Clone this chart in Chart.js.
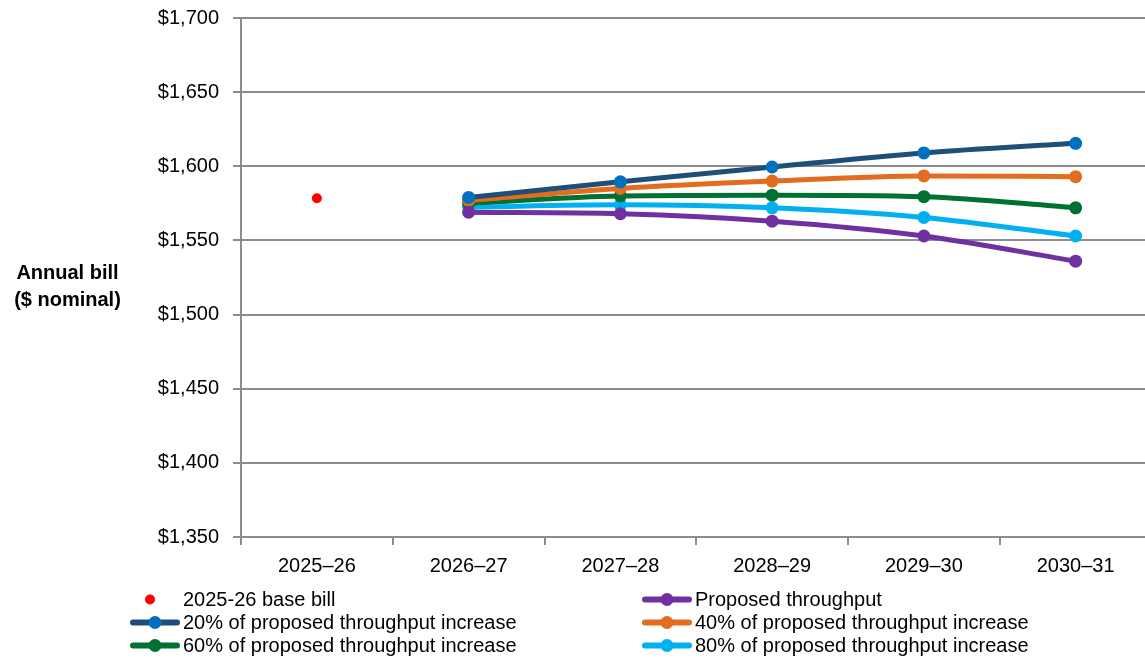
<!DOCTYPE html>
<html>
<head>
<meta charset="utf-8">
<script src="https://cdn.jsdelivr.net/npm/chart.js@4/dist/chart.umd.min.js"></script>
<style>
  body { margin: 0; background: #fff; font-family: "Liberation Sans", Arial, sans-serif; overflow: hidden; }
  #wrap { position: relative; width: 1145px; height: 661px; overflow: hidden; }
  #ytitle { position: absolute; left: 0; top: 259px; width: 135px; text-align: center;
            font-weight: bold; font-size: 20px; line-height: 27px; color: #000; }
  #legend { position: absolute; left: 0; top: 588px; width: 1145px; font-size: 20px; color: #000; }
  .item { position: absolute; height: 23px; line-height: 23px; white-space: nowrap; }
  .item canvas { position: absolute; left: 0; top: 0; }
  .item span { position: absolute; left: 53px; top: 0; }
</style>
</head>
<body>
<div id="wrap">
  <canvas id="myChart" width="1158" height="661"></canvas>
  <div id="ytitle">Annual bill<br>($ nominal)</div>
  <div id="legend"></div>
</div>
<script>
const years = ['2025–26', '2026–27', '2027–28', '2028–29', '2029–30', '2030–31'];
const baseBill = [1578.5, null, null, null, null, null];
const proposed = [null, 1569, 1568, 1563, 1553, 1536];
const pct20 = [null, 1579, 1589.5, 1599.5, 1609, 1615.5];
const pct40 = [null, 1577, 1585, 1590, 1593.5, 1593];
const pct60 = [null, 1575, 1580, 1580.5, 1579.5, 1572];
const pct80 = [null, 1572.5, 1574, 1572, 1565.5, 1553];
const yTicks = [1350, 1400, 1450, 1500, 1550, 1600, 1650, 1700];

function line(label, data, lineCol, dotCol) {
  return {
    label: label, data: data,
    borderColor: lineCol, backgroundColor: dotCol,
    pointBackgroundColor: dotCol, pointBorderColor: dotCol,
    borderWidth: 5, pointRadius: 6.5, pointBorderWidth: 0,
    tension: 0.3, cubicInterpolationMode: 'monotone'
  };
}

const datasets = [
  { label: '2025-26 base bill', data: baseBill, showLine: false,
    backgroundColor: '#ff0000', borderColor: '#ff0000',
    pointRadius: 5, pointBorderWidth: 0 },
  line('Proposed throughput', proposed, '#7030a0', '#7030a0'),
  line('20% of proposed throughput increase', pct20, '#1f4e79', '#0070c0'),
  line('40% of proposed throughput increase', pct40, '#e36c1e', '#e36c1e'),
  line('60% of proposed throughput increase', pct60, '#007033', '#007033'),
  line('80% of proposed throughput increase', pct80, '#00b0f0', '#00b0f0')
];
// draw order: first dataset on top
datasets.forEach((d, i) => d.order = i);

const grey = '#8c8c8c';
const tickFont = { family: '"Liberation Sans", Arial, sans-serif', size: 20 };

new Chart(document.getElementById('myChart'), {
  type: 'line',
  data: { labels: years, datasets: datasets },
  options: {
    responsive: false,
    animation: false,
    layout: { padding: { top: 18, right: 0, bottom: 84, left: 0 } },
    plugins: { legend: { display: false }, tooltip: { enabled: false } },
    scales: {
      x: {
        offset: true,
        grid: { offset: true, drawOnChartArea: false, color: grey, lineWidth: 2, tickLength: 8 },
        border: { color: grey, width: 2 },
        ticks: { color: '#000', font: tickFont, padding: 9 },
        afterFit: s => { s.height = 40; }
      },
      y: {
        min: 1350, max: 1700,
        afterBuildTicks: s => { s.ticks = yTicks.map(v => ({ value: v })); },
        grid: { color: grey, lineWidth: 2, tickLength: 8 },
        border: { color: grey, width: 2 },
        ticks: {
          color: '#000', font: tickFont, padding: 14,
          callback: v => '$' + v.toLocaleString('en-US')
        },
        afterFit: s => { s.width = 241; s.paddingTop = 0; s.paddingBottom = 0; }
      }
    }
  }
});

// two-column legend under the chart
const legendPos = [
  [130, 0], [642, 0], [130, 23], [642, 23], [130, 46], [642, 46]
];
const legend = document.getElementById('legend');
datasets.forEach((d, i) => {
  const item = document.createElement('div');
  item.className = 'item';
  item.style.left = legendPos[i][0] + 'px';
  item.style.top = legendPos[i][1] + 'px';
  const c = document.createElement('canvas');
  c.width = 50; c.height = 23;
  const ctx = c.getContext('2d');
  if (d.showLine !== false) {
    ctx.strokeStyle = d.borderColor; ctx.lineWidth = 6; ctx.lineCap = 'round';
    ctx.beginPath(); ctx.moveTo(3, 11.5); ctx.lineTo(47, 11.5); ctx.stroke();
    ctx.fillStyle = d.backgroundColor;
    ctx.beginPath(); ctx.arc(25, 11.5, 6.5, 0, Math.PI * 2); ctx.fill();
  } else {
    ctx.fillStyle = d.backgroundColor;
    ctx.beginPath(); ctx.arc(20, 11.5, 5, 0, Math.PI * 2); ctx.fill();
  }
  const t = document.createElement('span');
  t.textContent = d.label;
  item.appendChild(c); item.appendChild(t);
  legend.appendChild(item);
});
</script>
</body>
</html>
